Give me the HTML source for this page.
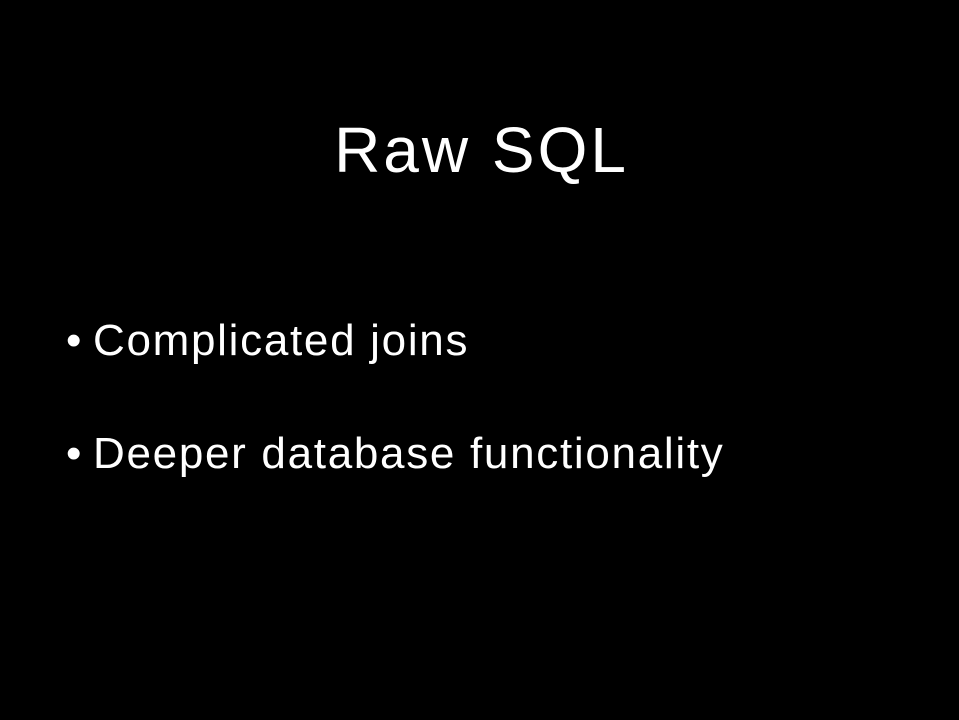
<!DOCTYPE html>
<html><head><meta charset="utf-8"><style>
html,body{margin:0;padding:0;background:#000;width:959px;height:720px;overflow:hidden}
body{position:relative;font-family:"Liberation Sans",sans-serif;color:#fff}
.t{position:absolute;left:2px;width:959px;top:112px;text-align:center;font-size:64px;line-height:76px;letter-spacing:3px}
.b{position:absolute;left:66px;font-size:44px;line-height:50px;letter-spacing:1.7px}
.b span{display:inline-block;width:27px;letter-spacing:0}
</style></head><body>
<div class="t">Raw SQL</div>
<div class="b" style="top:316px"><span>•</span>Complicated joins</div>
<div class="b" style="top:429px"><span>•</span>Deeper database functionality</div>
</body></html>
